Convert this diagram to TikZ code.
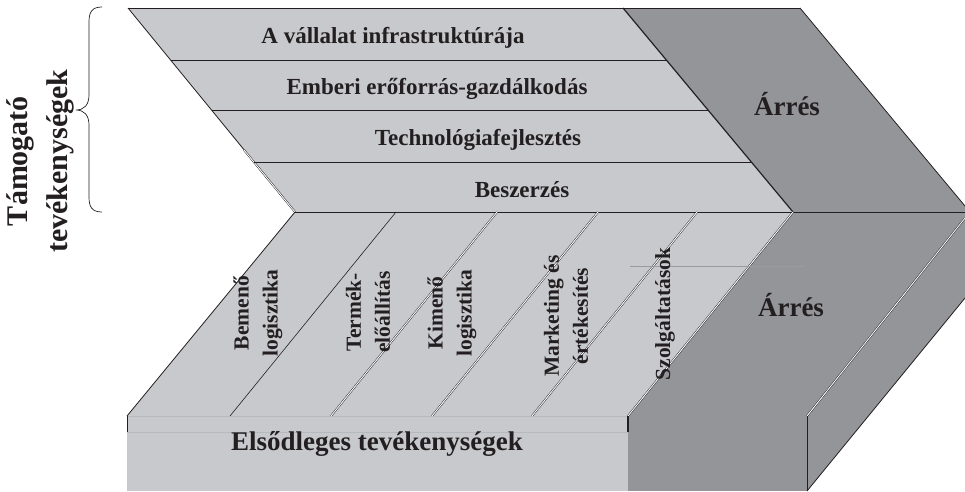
\documentclass[tikz,border=0pt]{standalone}
\usepackage{fontspec}
\setmainfont{Liberation Serif}
\definecolor{lightg}{RGB}{200,201,205}
\definecolor{darkg}{RGB}{148,149,153}
\definecolor{ink}{RGB}{35,31,32}
\definecolor{faintl}{RGB}{184,185,189}
\definecolor{faintd}{RGB}{154,155,159}
\begin{document}
\begin{tikzpicture}[x=1pt,y=-1pt,
  ln/.style={draw=ink,line width=0.8pt},
  thinln/.style={draw=ink,line width=0.6pt},
  dbl/.style={draw=ink,line width=0.45pt,double=white,double distance=0.9pt},
  rowlbl/.style={font=\bfseries\fontsize{23}{26}\selectfont,text=ink,anchor=base,inner sep=0pt},
  collbl/.style={font=\bfseries\fontsize{21.5}{29}\selectfont,text=ink,rotate=90,align=center,inner sep=0pt},
  biglbl/.style={font=\bfseries\fontsize{27}{30}\selectfont,text=ink,anchor=base,inner sep=0pt},
  sidelbl/.style={font=\bfseries\fontsize{30}{40}\selectfont,text=ink,rotate=90,align=center,inner sep=0pt},
]
\useasboundingbox (0,0) rectangle (965,491);
\clip (0,0) rectangle (965,491);
% fills
\fill[lightg] (128,8) -- (623,8) -- (793,212) -- (295,212) -- cycle;
\fill[darkg] (623,8) -- (800,8) -- (970,212) -- (793,212) -- cycle;
\fill[lightg] (295,212) -- (793,212) -- (628,416) -- (127,416) -- cycle;
\fill[darkg] (793,212) -- (970,212) -- (965,218) -- (807,416) -- (628,416) -- cycle;
\fill[darkg] (807,416) -- (965,218) -- (965,298) -- (807,491) -- cycle;
\fill[lightg] (127,416) rectangle (628,491);
\fill[darkg] (628,416) rectangle (807,491);
% upper chevron lines
\draw[ln] (128,8) -- (800,8);
\draw[ln] (128,8) -- (295,212);
\draw[dbl] (244,150) -- (295,212);
\draw[ln,line width=1.2pt] (623,8) -- (793,212);
\draw[ln] (800,8) -- (970,212);
\draw[thinln] (170.6,60) -- (666.3,60);
\draw[thinln] (211.5,110) -- (708,110);
\draw[thinln] (254,162) -- (751.3,162);
\draw[ln] (295,212) -- (970,212);
% lower part lines
\draw[ln] (295,212) -- (127,416);
\draw[dbl] (793,212) -- (628,416);
\draw[thinln] (396,212) -- (230,416);
\draw[dbl] (497,212) -- (331,416);
\draw[dbl] (598,212) -- (432,416);
\draw[dbl] (697,212) -- (532,416);
\draw[dbl] (965,218) -- (807,416);
\draw[ln] (965,298) -- (807,491);
\draw[ln] (807,416) -- (807,491);
\draw[faintd,line width=0.3pt] (630,266) -- (805,266);
% front face
\draw[faintl,line width=0.6pt] (127,416) -- (628,416);
\draw[faintl,line width=0.6pt] (127,432) -- (628,432);
\draw[ink,line width=1.4pt] (127.7,416) -- (127.7,432);
\draw[ink,line width=1.2pt] (628,416) -- (628,432);
% brace
\draw[ink,line width=0.7pt] (102,7) .. controls (92,7) and (89,12) .. (89,22) -- (89,95)
  .. controls (89,105) and (84,110) .. (76,110) .. controls (84,110) and (89,115) .. (89,125)
  -- (89,197) .. controls (89,207) and (92,212) .. (102,212);
% labels
\node[rowlbl] (r1) at (393,43) {A vállalat infrastruktúrája};
\node[rowlbl] (r2) at (437,94) {Emberi erőforrás-gazdálkodás};
\node[rowlbl] (r3) at (478,145) {Technológiafejlesztés};
\node[rowlbl] (r4) at (522,197) {Beszerzés};
\node[biglbl] (m1) at (787,115) {Árrés};
\node[biglbl] (m2) at (791,316) {Árrés};
\node[biglbl] (prim) at (377,450) {Elsődleges tevékenységek};
\node[collbl] (c1) at (258,313) {Bemenő\\logisztika};
\node[collbl] (c2) at (368,312) {Termék-\\előállítás};
\node[collbl] (c3) at (452,313) {Kimenő\\logisztika};
\node[collbl] (c4) at (566,316) {Marketing és\\értékesítés};
\node[collbl] (c5) at (665,314) {Szolgáltatások};
\node[sidelbl] (sup) at (40,161) {Támogató\\tevékenységek};
\end{tikzpicture}
\end{document}
